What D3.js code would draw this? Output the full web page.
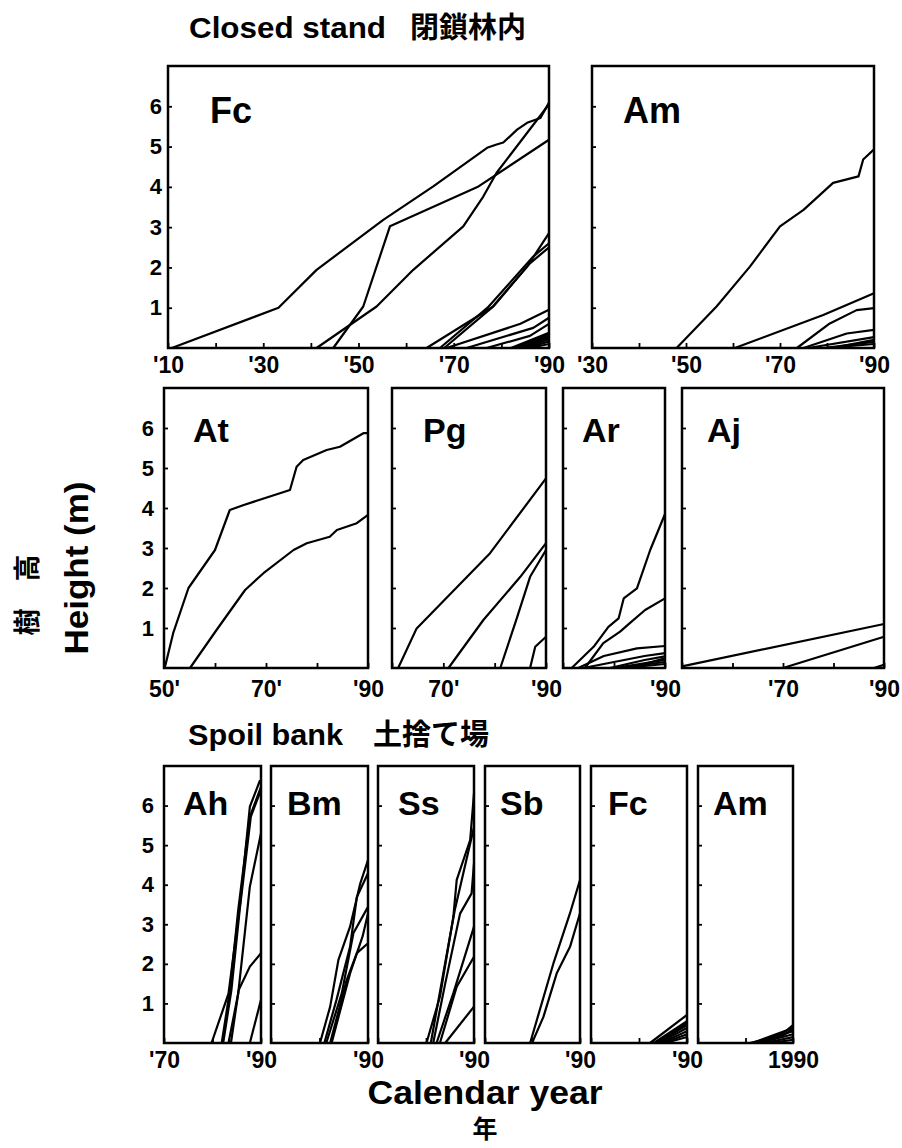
<!DOCTYPE html>
<html>
<head>
<meta charset="utf-8">
<script src="https://cdn.jsdelivr.net/npm/d3@7"></script>
<style>
  body { margin: 0; background: #fff; }
  svg text { font-family: "Liberation Sans", Arial, sans-serif; font-weight: bold; fill: #000; }
  svg text.cjk { font-family: "Noto Sans CJK JP", sans-serif; }
  .frame { fill: none; stroke: #000; stroke-width: 2.5; }
  .series { fill: none; stroke: #000; stroke-width: 2.2; stroke-linejoin: round; }
  .axis path { display: none; }
  .axis line { stroke: #000; stroke-width: 1.8; }
</style>
</head>
<body>
<script>
// tree height (m) by calendar year, one array of [year, height] per tree

// Closed stand
const closedFc = [
  [[1910.8, 0], [1933.2, 1.0], [1941.2, 1.94], [1955.2, 3.18], [1965.7, 4.01], [1977, 4.97], [1979, 5.05], [1980.4, 5.1], [1983.3, 5.42], [1985.4, 5.59], [1988.2, 5.71], [1990, 6.09]],
  [[1944.7, 0], [1951, 1.03], [1956.6, 3.02], [1975.2, 4.01], [1990, 5.17]],
  [[1941.2, 0], [1953.8, 1.03], [1961.5, 1.94], [1972, 3.02], [1976.2, 3.76], [1979, 4.35], [1990, 6.05]],
  [[1964.3, 0], [1978.3, 1.03], [1985.4, 2.02], [1990, 2.85]],
  [[1967.1, 0], [1977.1, 1.0], [1986.7, 2.27], [1990, 2.6]],
  [[1968, 0], [1978, 1.0], [1986, 2.1], [1990, 2.5]],
  [[1968.5, 0], [1984, 0.6], [1990, 0.95]],
  [[1972.7, 0], [1986.7, 0.5], [1990, 0.75]],
  [[1976.9, 0], [1986, 0.3], [1990, 0.6]],
  [[1982, 0], [1990, 0.38]],
  [[1982.5, 0], [1990, 0.35]],
  [[1983, 0], [1990, 0.32]],
  [[1984, 0], [1990, 0.27]],
  [[1984.5, 0], [1990, 0.3]],
  [[1985, 0], [1990, 0.22]],
  [[1985.5, 0], [1990, 0.16]],
  [[1986, 0], [1990, 0.1]]
];

const closedAm = [
  [[1948, 0], [1956.5, 1.03], [1963.6, 2.02], [1970, 3.02], [1975, 3.43], [1981.3, 4.1], [1986.7, 4.26], [1987.7, 4.68], [1990, 4.93]],
  [[1960.4, 0], [1979.2, 0.82], [1990, 1.36]],
  [[1973.6, 0], [1980.6, 0.61], [1986.3, 0.94], [1990, 0.99]],
  [[1975, 0], [1984.2, 0.36], [1990, 0.45]],
  [[1976, 0], [1990, 0.27]],
  [[1979.2, 0], [1990, 0.15]],
  [[1980, 0], [1990, 0.1]],
  [[1981, 0], [1990, 0.2]]
];

const closedAt = [
  [[1950.2, 0.03], [1951.8, 0.87], [1954.8, 2.0], [1960, 2.95], [1962.9, 3.95], [1965.5, 4.07], [1974.7, 4.45], [1976, 5.03], [1977.3, 5.2], [1981.9, 5.45], [1984.5, 5.53], [1989.1, 5.87], [1990, 5.87]],
  [[1955.1, 0], [1960.3, 0.95], [1965.9, 1.95], [1969.5, 2.37], [1975.4, 2.95], [1978, 3.12], [1982.5, 3.28], [1983.9, 3.45], [1987.8, 3.62], [1990, 3.83]]
];

const closedPg = [
  [[1961.2, 0], [1964.8, 0.99], [1979.1, 2.87], [1990, 4.74]],
  [[1971, 0], [1977.8, 1.2], [1985, 2.28], [1990, 3.12]],
  [[1981.1, 0], [1984.4, 1.28], [1986.9, 2.28], [1990, 2.95]],
  [[1986.9, 0], [1987.9, 0.53], [1990, 0.78]]
];

const closedAr = [
  [[1971.7, 0], [1976, 0.53], [1978.9, 1.03], [1980.9, 1.24], [1981.9, 1.74], [1984.5, 1.99], [1987.1, 2.95], [1990, 3.85]],
  [[1974.3, 0], [1977.9, 0.62], [1981.2, 0.91], [1983.1, 1.12], [1986.1, 1.45], [1990, 1.74]],
  [[1973, 0], [1978, 0.3], [1984.5, 0.49], [1990, 0.55]],
  [[1974, 0], [1982, 0.2], [1986, 0.3], [1990, 0.37]],
  [[1979.2, 0], [1986, 0.2], [1990, 0.29]],
  [[1980, 0], [1990, 0.2]],
  [[1981, 0], [1990, 0.15]],
  [[1982, 0], [1990, 0.1]],
  [[1983, 0], [1990, 0.24]]
];

const closedAj = [
  [[1950, 0.04], [1990, 1.1]],
  [[1970, 0], [1990, 0.78]],
  [[1988, 0], [1990, 0.08]]
];

// Spoil bank
const spoilAh = [
  [[1979.8, 0], [1981.9, 0.75], [1983.3, 1.25], [1985.7, 3.53], [1987.7, 5.97], [1989.8, 6.64]],
  [[1981.9, 0], [1983.6, 1.34], [1985.3, 3.36], [1987.7, 5.72], [1990, 6.47]],
  [[1982.2, 0], [1983.9, 1.34], [1985.6, 3.36], [1987.9, 5.72], [1990, 6.4]],
  [[1983.3, 0], [1985.3, 1.25], [1987.7, 3.95], [1990, 5.3]],
  [[1983.8, 0], [1985.4, 1.34], [1987.7, 1.93], [1990, 2.27]],
  [[1987.7, 0], [1990, 1.09]]
];

const spoilBm = [
  [[1980.1, 0], [1982.2, 0.92], [1983.9, 2.1], [1986.3, 2.94], [1988.4, 4.03], [1990, 4.62]],
  [[1981, 0], [1983.5, 1.09], [1986.3, 2.43], [1987.7, 3.69], [1990, 4.29]],
  [[1981.4, 0], [1984.6, 1.26], [1987, 2.78], [1990, 3.44]],
  [[1982.2, 0], [1985.6, 1.59], [1987.7, 2.27], [1990, 2.52]],
  [[1982.5, 0], [1986.3, 1.76], [1988.9, 2.7], [1990, 3.27]]
];

const spoilSs = [
  [[1980.1, 0], [1982.9, 1.17], [1985.7, 3.19], [1986.4, 4.12], [1989.2, 5.13], [1990, 6.31]],
  [[1981, 0], [1983.6, 1.76], [1986, 3.36], [1990, 5.46]],
  [[1981.5, 0], [1984, 1.5], [1987.1, 3.27], [1989.5, 3.78], [1990, 4.54]],
  [[1982.2, 0], [1985.7, 1.26], [1990, 2.94]],
  [[1982.9, 0], [1986.4, 1.42], [1990, 2.18]],
  [[1984, 0], [1990, 0.92]]
];

const spoilSb = [
  [[1979.5, 0], [1984.4, 2.01], [1987.9, 3.28], [1990, 4.12]],
  [[1979.9, 0], [1982.3, 0.66], [1985.1, 1.76], [1987.9, 2.43], [1990, 3.28]]
];

const spoilFc = [
  [[1982.3, 0], [1990, 0.71]],
  [[1983.1, 0], [1990, 0.55]],
  [[1983.8, 0], [1990, 0.5]],
  [[1983.5, 0], [1990, 0.45]],
  [[1984, 0], [1990, 0.38]],
  [[1984.5, 0], [1990, 0.3]],
  [[1985, 0], [1990, 0.22]],
  [[1985.5, 0], [1990, 0.15]]
];

const spoilAm = [
  [[1980.9, 0], [1986, 0.15], [1988.5, 0.3], [1990, 0.45]],
  [[1981.5, 0], [1990, 0.38]],
  [[1982.5, 0], [1988, 0.2], [1990, 0.35]],
  [[1982, 0], [1990, 0.3]],
  [[1983, 0], [1990, 0.22]],
  [[1984, 0], [1990, 0.15]],
  [[1985, 0], [1990, 0.08]]
];

// tick labels
const heightTicks = [1, 2, 3, 4, 5, 6];
const fcClosedYears = [1910, 1930, 1950, 1970, 1990];
const fcClosedLabels = ["'10", "'30", "'50", "'70", "'90"];
const amClosedYears = [1930, 1950, 1970, 1990];
const amClosedLabels = ["'30", "'50", "'70", "'90"];
const atYears = [1950, 1970, 1990];
const atLabels = ["50'", "70'", "'90"];
const pgYears = [1970, 1990];
const pgLabels = ["70'", "'90"];
const ajYears = [1970, 1990];
const ajLabels = ["'70", "'90"];
const ahYears = [1970, 1990];
const ahLabels = ["'70", "'90"];
const lastYears = [1990];
const lastLabels = ["'90"];
const fullLabels = ["1990"];

const width = 902,
  height = 1148;

// layout of the three rows of panels
const rows = [
  { top: 66, bottom: 348, labelBase: 373, yPad: 6, nameBase: 123, nameSize: 36 },
  { top: 388, bottom: 668, labelBase: 697, yPad: 10, nameBase: 442, nameSize: 34 },
  { top: 766, bottom: 1043, labelBase: 1068, yPad: 10, nameBase: 815, nameSize: 34 }
];

const panels = [
  { name: "Fc", data: closedFc, row: 0, x0: 168, x1: 549, from: 1910, years: fcClosedYears, labels: fcClosedLabels, yLabels: true, nameDx: 42 },
  { name: "Am", data: closedAm, row: 0, x0: 592, x1: 874, from: 1930, years: amClosedYears, labels: amClosedLabels, nameDx: 31 },
  { name: "At", data: closedAt, row: 1, x0: 164, x1: 368, from: 1950, years: atYears, labels: atLabels, yLabels: true, nameDx: 29 },
  { name: "Pg", data: closedPg, row: 1, x0: 392, x1: 546, from: 1960, years: pgYears, labels: pgLabels, nameDx: 31 },
  { name: "Ar", data: closedAr, row: 1, x0: 563, x1: 665, from: 1970, years: lastYears, labels: lastLabels, nameDx: 19 },
  { name: "Aj", data: closedAj, row: 1, x0: 682, x1: 884, from: 1950, years: ajYears, labels: ajLabels, nameDx: 25 },
  { name: "Ah", data: spoilAh, row: 2, x0: 164, x1: 261, from: 1970, years: ahYears, labels: ahLabels, yLabels: true, nameDx: 19 },
  { name: "Bm", data: spoilBm, row: 2, x0: 271, x1: 368, from: 1970, years: lastYears, labels: lastLabels, nameDx: 16 },
  { name: "Ss", data: spoilSs, row: 2, x0: 378, x1: 474, from: 1970, years: lastYears, labels: lastLabels, nameDx: 20 },
  { name: "Sb", data: spoilSb, row: 2, x0: 485, x1: 580, from: 1970, years: lastYears, labels: lastLabels, nameDx: 15 },
  { name: "Fc", data: spoilFc, row: 2, x0: 591, x1: 687, from: 1970, years: lastYears, labels: lastLabels, nameDx: 17 },
  { name: "Am", data: spoilAm, row: 2, x0: 698, x1: 793, from: 1970, years: lastYears, labels: fullLabels, nameDx: 15 }
];

const svg = d3
  .select("body")
  .append("svg")
  .attr("width", width)
  .attr("height", height);

const axisFont = 23;

panels.forEach((p) => {
  const r = rows[p.row];
  const x = d3.scaleLinear().domain([p.from, 1990]).range([p.x0, p.x1]);
  const y = d3.scaleLinear().domain([0, 7]).range([r.bottom, r.top]);
  const g = svg.append("g");

  const labelOf = new Map(p.years.map((yr, i) => [yr, p.labels[i]]));

  // x axis, ticks every ten years pointing into the panel
  g.append("g")
    .attr("class", "axis")
    .attr("transform", `translate(0,${r.bottom})`)
    .call(
      d3
        .axisBottom(x)
        .tickValues(d3.range(p.from, 1991, 10))
        .tickSizeInner(-5)
        .tickSizeOuter(0)
        .tickPadding(r.labelBase - r.bottom - 0.71 * axisFont)
        .tickFormat((d) => labelOf.get(d) || "")
    )
    .attr("font-size", axisFont)
    .attr("font-family", null);

  // y axis, labels only on the first panel of a row
  g.append("g")
    .attr("class", "axis")
    .attr("transform", `translate(${p.x0},0)`)
    .call(
      d3
        .axisLeft(y)
        .tickValues(heightTicks)
        .tickSizeInner(-4)
        .tickSizeOuter(0)
        .tickPadding(r.yPad)
        .tickFormat((d) => (p.yLabels ? d : ""))
    )
    .attr("font-size", 22)
    .attr("font-family", null);

  const line = d3
    .line()
    .x((d) => x(d[0]))
    .y((d) => y(d[1]));

  g.selectAll("path.series")
    .data(p.data)
    .enter()
    .append("path")
    .attr("class", "series")
    .attr("d", line);

  g.append("rect")
    .attr("class", "frame")
    .attr("x", p.x0)
    .attr("y", r.top)
    .attr("width", p.x1 - p.x0)
    .attr("height", r.bottom - r.top);

  g.append("text")
    .attr("x", p.x0 + p.nameDx)
    .attr("y", r.nameBase)
    .attr("font-size", r.nameSize)
    .text(p.name);
});

// Titles
svg.append("text").attr("x", 189).attr("y", 38).attr("font-size", 29).attr("textLength", 197).attr("lengthAdjust", "spacingAndGlyphs").text("Closed stand");
svg.append("text").attr("class", "cjk").attr("x", 410).attr("y", 38).attr("font-size", 29).text("閉鎖林内");

svg.append("text").attr("x", 188).attr("y", 745).attr("font-size", 29).attr("textLength", 155).attr("lengthAdjust", "spacingAndGlyphs").text("Spoil bank");
svg.append("text").attr("class", "cjk").attr("x", 373).attr("y", 745).attr("font-size", 29).text("土捨て場");

// Axis titles
svg.append("text")
  .attr("transform", "translate(88,568) rotate(-90)")
  .attr("text-anchor", "middle")
  .attr("font-size", 33)
  .attr("textLength", 173)
  .attr("lengthAdjust", "spacingAndGlyphs")
  .text("Height (m)");

svg.append("text")
  .attr("class", "cjk")
  .attr("transform", "translate(37,595) rotate(-90)")
  .attr("text-anchor", "middle")
  .attr("font-size", 27)
  .text("樹　高");

svg.append("text")
  .attr("x", 485)
  .attr("y", 1104)
  .attr("text-anchor", "middle")
  .attr("font-size", 34)
  .attr("textLength", 235)
  .attr("lengthAdjust", "spacingAndGlyphs")
  .text("Calendar year");

svg.append("text")
  .attr("class", "cjk")
  .attr("x", 485)
  .attr("y", 1138)
  .attr("text-anchor", "middle")
  .attr("font-size", 25)
  .text("年");
</script>
</body>
</html>
